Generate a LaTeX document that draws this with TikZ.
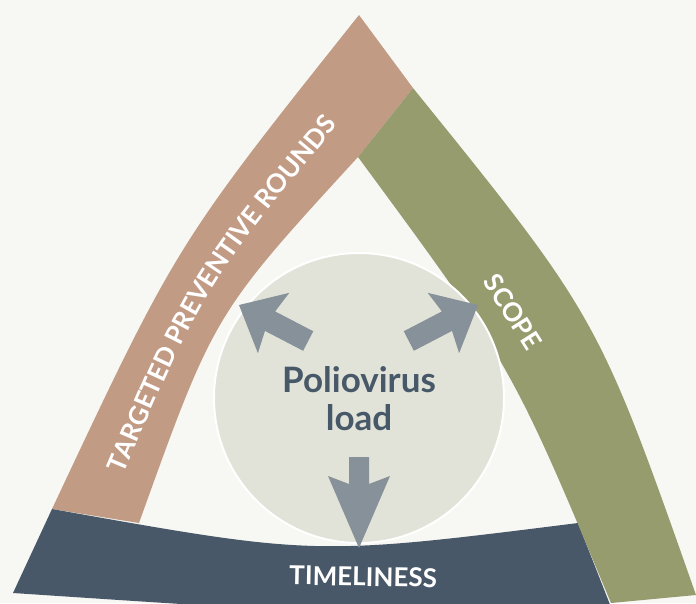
\documentclass[tikz,border=0pt]{standalone}
\usepackage{fontspec}
\setmainfont{Lato}
\usetikzlibrary{decorations.text}
\definecolor{bgc}{HTML}{F7F8F4}
\definecolor{pinkc}{HTML}{C29B85}
\definecolor{greenc}{HTML}{979C6F}
\definecolor{darkc}{HTML}{485868}
\definecolor{circc}{HTML}{E1E3D8}
\definecolor{arrc}{HTML}{87919A}
\definecolor{txtc}{HTML}{475869}
\begin{document}
\begin{tikzpicture}[x=1pt,y=-1pt,
  blockarrow/.style={fill=arrc,draw=none},
  bandlabel/.style={text=white,font=\bfseries\fontsize{26}{30}\selectfont,inner sep=0pt},
  centerlabel/.style={text=txtc,font=\bfseries\fontsize{35}{38}\selectfont,inner sep=0pt,anchor=base},
]
\useasboundingbox (0,0) rectangle (696,603);
\fill[bgc] (0,0) rectangle (696,603);
\begin{scope}
\clip (0,0) rectangle (696,603);
% pink band
\fill[pinkc] (52,509) .. controls (176.6,244.1) .. (359,15) -- (413,88) -- (358,157)
   .. controls (214,314) .. (139,523) -- cycle;
% dark band
\fill[darkc] (52,509) .. controls (315,556) .. (578,523) -- (618,625)
   .. controls (300,612) .. (13,593) -- cycle;
% green band
\fill[greenc] (413,88) .. controls (598.2,317.1) .. (696,595) -- (611,603)
   .. controls (512,366) .. (358,157) -- cycle;
\end{scope}
% central circle
\node[circle, minimum size=290pt, inner sep=0pt, fill=circc, draw=white, line width=2pt] (load) at (359,398) {};
% block arrows
\coordinate (tipL) at (239,305);
\coordinate (tipR) at (478,305);
\coordinate (tipD) at (359,548);
\fill[blockarrow, shift={(tipL)}, rotate=152.5] (0,0) -- (-39,34) -- (-35,11) -- (-78,11) -- (-78,-11) -- (-35,-11) -- (-39,-34) -- cycle;
\fill[blockarrow, shift={(tipR)}, rotate=27.5] (0,0) -- (-39,34) -- (-35,11) -- (-78,11) -- (-78,-11) -- (-35,-11) -- (-39,-34) -- cycle;
\fill[blockarrow, shift={(tipD)}, rotate=-90] (0,0) -- (-72,31) -- (-64,10) -- (-91,10) -- (-91,-10) -- (-64,-10) -- (-72,-31) -- cycle;
% texts
\node[centerlabel] (t1) at (359,392) {Poliovirus};
\node[centerlabel] (t2) at (359,430) {load};
\node[bandlabel, anchor=base, rotate=-1] (timeliness) at (363,586) {TIMELINESS};
\node[bandlabel, rotate=-57.6] (scope) at (513,312) {SCOPE};
\path[decorate, decoration={text along path,
   text={|\bfseries\fontsize{26}{30}\selectfont|TARGETED PREVENTIVE ROUNDS},
   text color=white, text align=center, raise=-9.5pt}]
   (97,513) .. controls (195,280) .. (360,84);
\end{tikzpicture}
\end{document}
